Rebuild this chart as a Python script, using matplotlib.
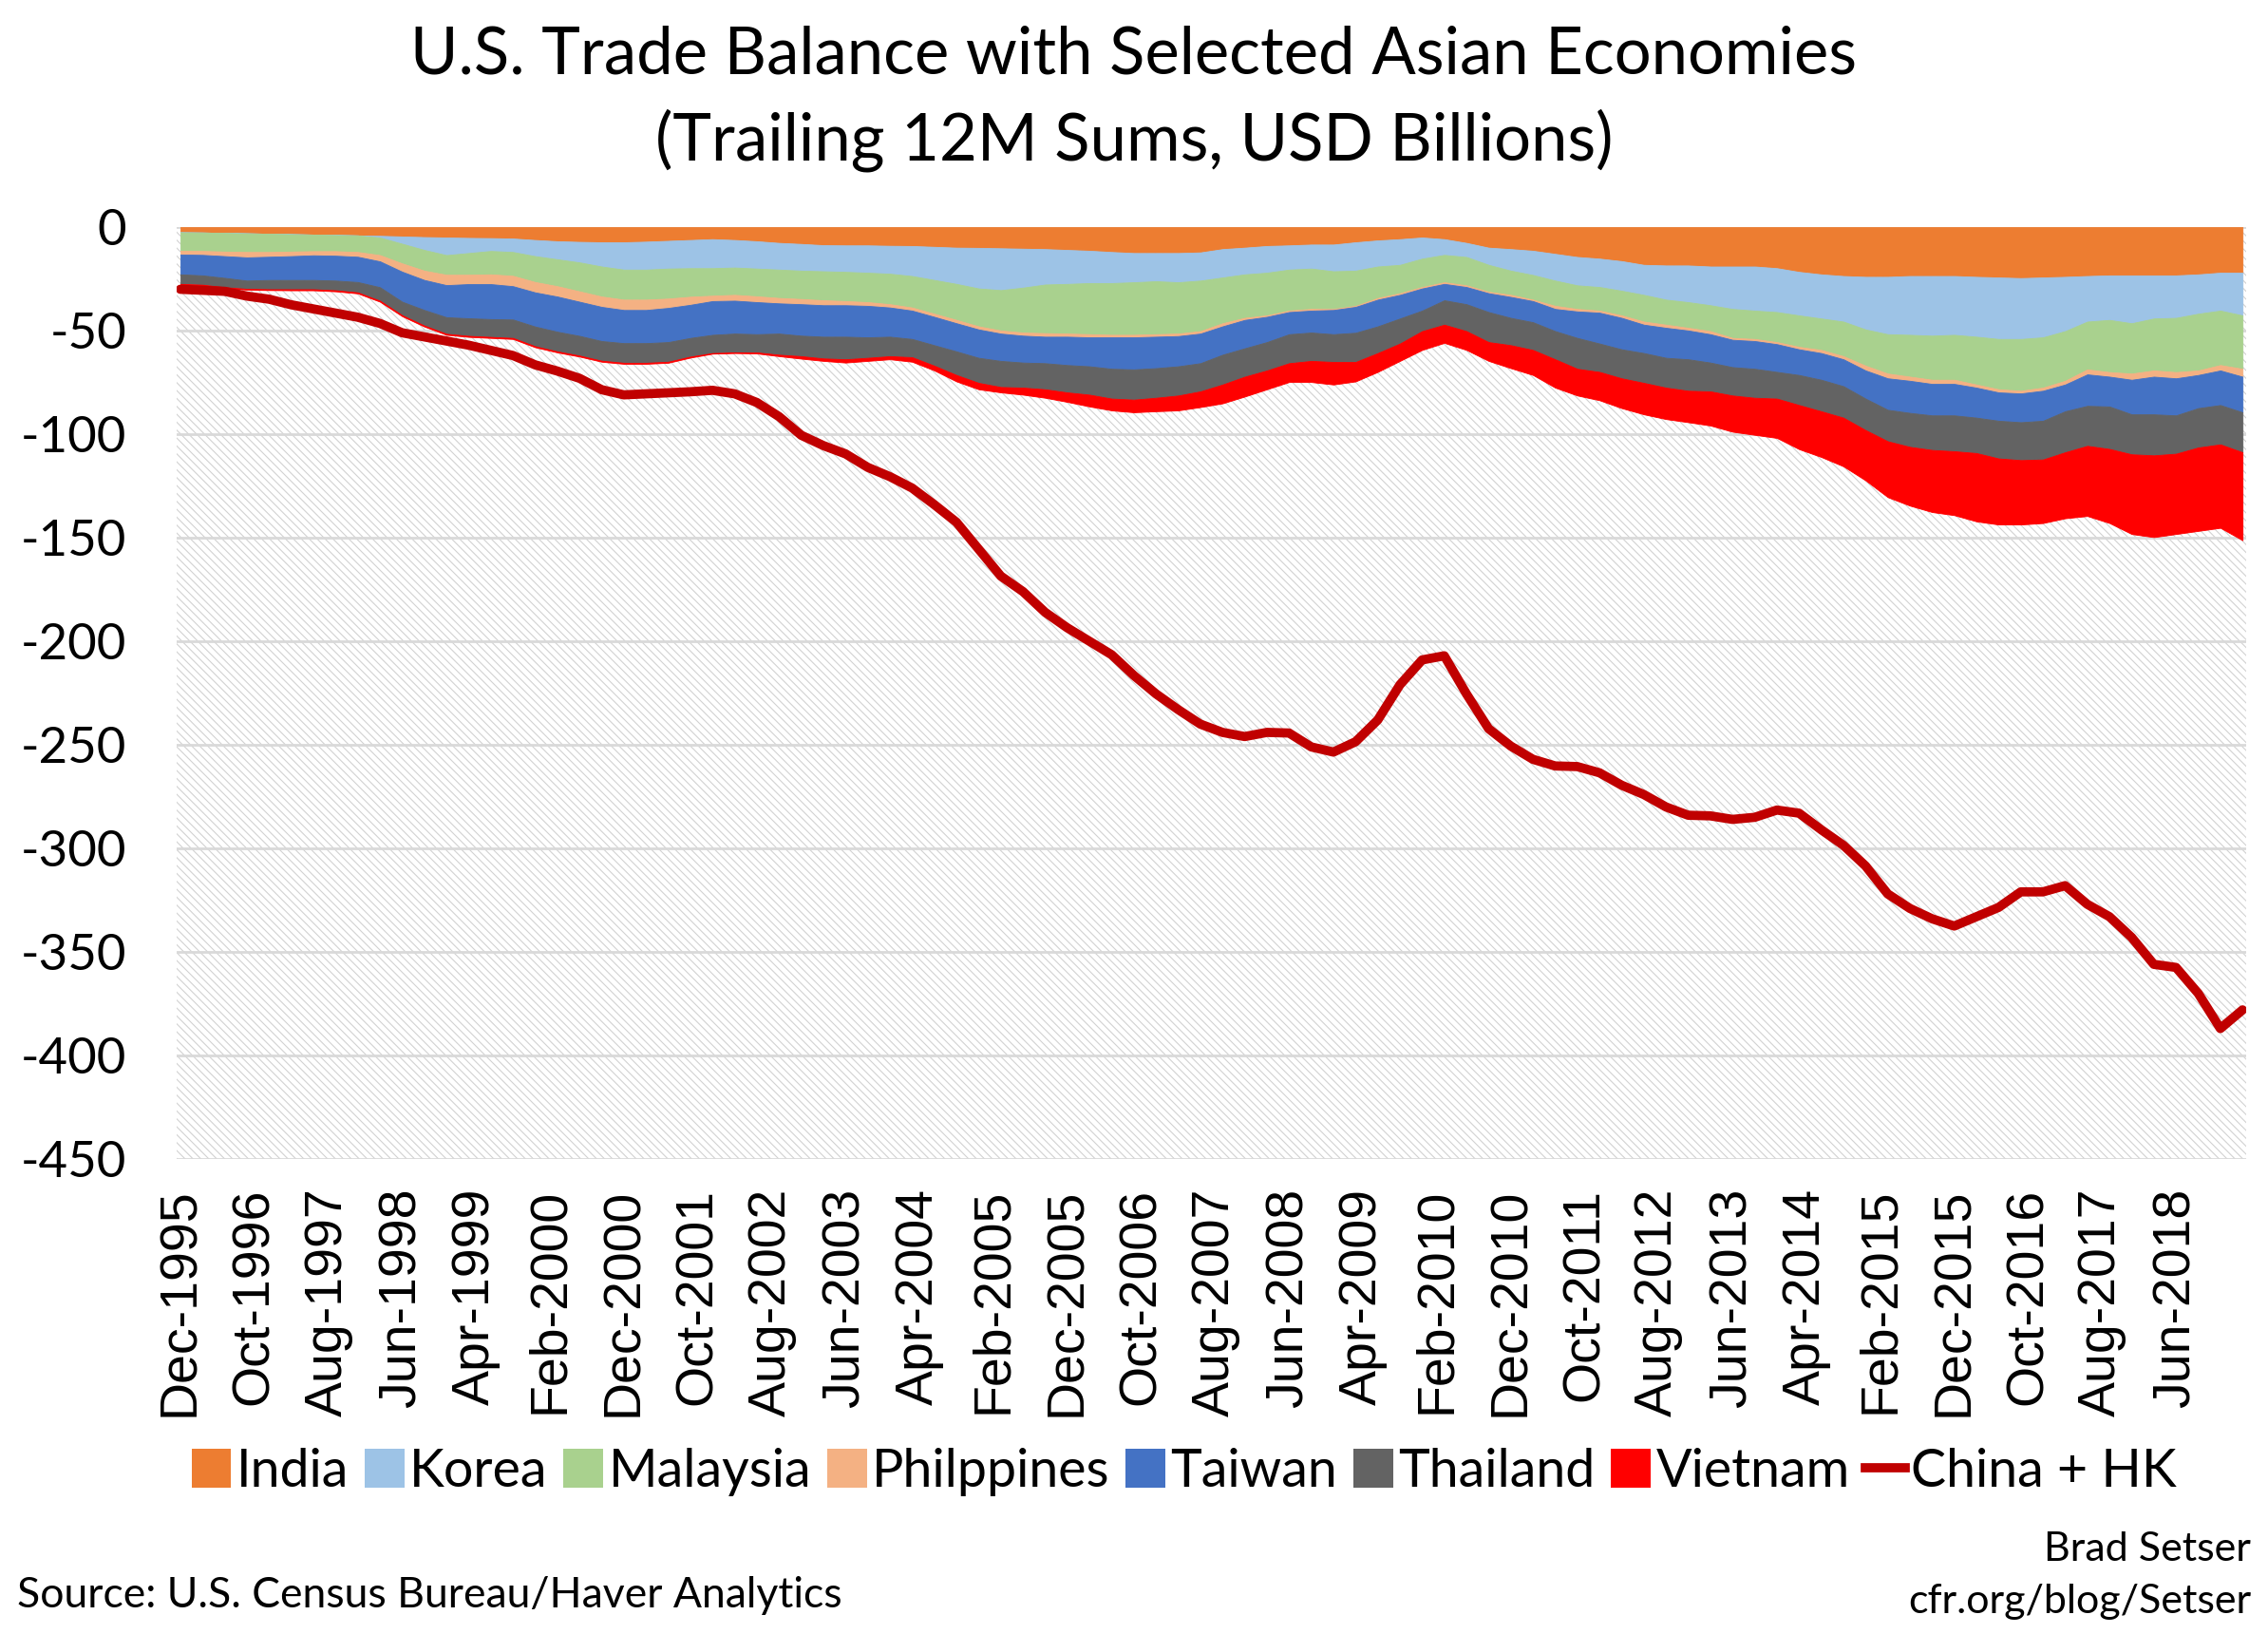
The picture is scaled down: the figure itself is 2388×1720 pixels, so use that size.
import numpy as np
import matplotlib
matplotlib.use("Agg")
import matplotlib.pyplot as plt
from matplotlib.patches import Patch
from matplotlib.lines import Line2D

plt.rcParams['font.family'] = ['Lato', 'DejaVu Sans']
plt.rcParams['axes.unicode_minus'] = False
plt.rcParams['hatch.linewidth'] = 0.8
plt.rcParams['hatch.color'] = '#d2d2d2'

# quarterly readings, months counted from Dec-1995 (0) to Mar-2019 (279)
months = np.arange(0, 280, 3)

india = [-2.5, -2.6, -2.8, -3.0, -3.2, -3.4, -3.6, -3.8, -4.0, -4.2, -4.5, -4.8,
         -5.0, -5.2, -5.3, -5.5, -6.2, -6.8, -7.1, -7.3, -7.3, -7.0, -6.6, -6.2,
         -5.8, -6.2, -6.8, -7.6, -8.1, -8.7, -8.8, -8.8, -9.0, -9.1, -9.5, -9.9,
         -10.0, -10.2, -10.4, -10.6, -11.0, -11.4, -12.0, -12.5, -12.5, -12.5, -12.2,
         -10.6, -9.9, -9.1, -8.8, -8.4, -8.4, -7.3, -6.4, -5.8, -5.0, -5.8, -7.6,
         -9.9, -10.6, -11.4, -12.9, -14.4, -15.2, -16.4, -18.2, -18.5, -18.5, -19.0,
         -19.0, -19.0, -19.8, -21.6, -22.8, -23.6, -24.0, -24.0, -23.6, -23.6, -23.6, -24.0,
         -24.3, -24.6, -24.3, -24.0, -23.6, -23.3, -23.3, -23.3, -23.3, -22.8, -22.0, -22.0]
korea = [0, 0, 0, 0, 0, 0, 0, 0, 0, -0.8, -3.5, -6.2,
         -8.5, -7.3, -6.2, -6.5, -7.8, -8.7, -9.9, -11.7, -13.2, -13.5, -13.4, -13.6,
         -14.0, -13.3, -13.2, -12.9, -12.9, -12.6, -12.8, -13.2, -13.5, -14.5, -16.0, -17.5,
         -19.6, -20.2, -18.8, -17.1, -16.4, -15.6, -15.0, -14.1, -13.6, -14.1, -13.6,
         -13.7, -12.9, -12.9, -11.7, -11.6, -12.9, -13.7, -12.6, -12.4, -10.2, -7.6, -6.8,
         -8.3, -10.4, -11.7, -12.9, -13.7, -13.7, -14.3, -14.5, -16.5, -17.7, -18.7,
         -20.5, -21.3, -21.2, -21.0, -21.3, -22.0, -25.4, -27.7, -28.4, -28.8, -28.4, -28.9,
         -29.7, -29.4, -28.9, -26.2, -22.0, -21.5, -23.1, -20.8, -20.5, -19.0, -18.3, -20.6]
malaysia = [-8.9, -8.9, -9.0, -9.0, -8.8, -8.4, -8.0, -7.8, -8.0, -8.5, -9.5, -10.0,
            -9.5, -10.5, -11.3, -11.5, -12.5, -13.0, -14.0, -14.5, -14.5, -14.5, -14.5, -13.8,
            -13.3, -13.2, -13.4, -13.7, -13.7, -14.0, -14.1, -14.2, -14.7, -15.2, -16.3, -17.4,
            -18.3, -19.5, -21.7, -23.5, -24.0, -24.7, -25.0, -25.4, -25.6, -24.8, -24.4,
            -22.1, -21.0, -20.6, -19.8, -19.5, -18.2, -17.0, -15.2, -13.7, -13.7, -13.2, -13.7,
            -13.0, -11.7, -11.9, -12.2, -11.4, -11.4, -11.9, -12.9, -12.1, -12.4, -12.5,
            -14.0, -13.7, -14.5, -15.2, -15.2, -16.7, -17.5, -19.0, -20.2, -21.3, -21.7, -23.1,
            -24.3, -25.0, -24.3, -24.0, -23.1, -25.2, -24.3, -25.1, -26.2, -27.4, -26.3, -25.8]
philippines = [-1.8, -1.9, -2.2, -2.6, -2.3, -2.2, -2.0, -2.2, -2.3, -3.0, -4.0, -4.5,
               -5.0, -4.5, -4.7, -5.0, -5.0, -5.0, -5.0, -5.0, -5.0, -5.0, -4.5, -3.9,
               -2.6, -2.8, -2.8, -2.6, -2.5, -2.4, -2.0, -1.8, -1.6, -1.5, -1.5, -1.6,
               -1.5, -1.5, -1.5, -1.7, -1.5, -1.5, -1.2, -1.2, -1.2, -1.2, -1.2,
               -1.5, -1.0, -0.7, -0.7, -0.8, -0.5, -0.5, -0.8, -0.8, -0.7, -0.8, -0.8,
               -0.7, -1.0, -0.7, -1.5, -1.2, -1.0, -1.2, -1.5, -1.5, -1.3, -1.5,
               -0.9, -1.0, -1.0, -1.2, -1.5, -1.5, -2.3, -2.3, -2.0, -2.0, -2.0, -1.5,
               -1.5, -1.3, -1.5, -1.8, -2.4, -2.2, -3.0, -3.0, -3.0, -2.2, -2.6, -3.8]
taiwan = [-9.6, -9.9, -10.5, -11.2, -11.2, -11.5, -11.9, -12.0, -12.2, -12.5, -14.5, -14.5,
          -15.5, -16.5, -16.9, -16.1, -16.5, -17.0, -16.5, -16.5, -16.0, -16.0, -16.5, -16.0,
          -16.3, -15.9, -15.5, -14.6, -15.2, -15.2, -15.2, -15.2, -14.1, -13.7, -13.7, -13.6,
          -13.7, -13.2, -13.0, -12.8, -13.7, -14.0, -15.2, -15.5, -15.2, -14.6, -14.3,
          -13.7, -13.7, -12.2, -10.7, -10.6, -11.7, -12.5, -12.9, -11.4, -10.7, -7.9, -8.3,
          -9.1, -10.1, -10.2, -10.7, -12.8, -14.9, -15.2, -13.7, -14.5, -13.9, -13.7,
          -13.2, -13.4, -13.4, -12.4, -12.9, -13.0, -13.6, -15.2, -15.5, -15.2, -15.2, -14.5,
          -13.7, -13.9, -14.5, -12.9, -15.2, -14.4, -16.7, -18.2, -17.9, -16.0, -16.7, -17.2]
thailand = [-4.6, -4.5, -4.5, -4.0, -4.5, -4.5, -4.5, -4.7, -5.0, -6.5, -6.5, -7.5,
            -8.0, -8.5, -8.6, -8.9, -9.5, -9.5, -9.5, -9.5, -9.5, -9.5, -9.5, -9.0,
            -8.8, -9.1, -8.8, -10.2, -9.9, -10.5, -10.9, -9.9, -9.4, -8.8, -9.9, -11.4,
            -12.1, -12.6, -12.1, -12.6, -13.2, -13.7, -14.4, -14.6, -14.3, -14.1, -13.6,
            -14.4, -13.7, -13.7, -14.0, -13.7, -13.4, -14.1, -12.9, -12.1, -9.9, -11.8, -13.0,
            -14.5, -13.2, -13.4, -13.6, -14.9, -13.7, -14.0, -14.4, -14.4, -15.2, -13.9,
            -13.7, -14.0, -12.9, -14.5, -15.2, -15.2, -15.2, -15.2, -16.4, -16.7, -17.3, -17.1,
            -18.2, -18.3, -18.7, -19.8, -19.3, -20.5, -19.3, -19.8, -18.5, -19.0, -19.0, -19.3]
vietnam = [-0.4, -0.4, -0.4, -0.4, -0.4, -0.5, -0.5, -0.5, -0.5, -0.5, -0.5, -0.5,
           -0.5, -0.5, -0.5, -0.5, -0.5, -0.5, -0.5, -0.5, -0.5, -0.5, -0.5, -0.5,
           -0.3, -0.3, -0.5, -0.7, -1.2, -1.2, -1.6, -1.5, -1.5, -2.2, -2.3, -3.1,
           -3.1, -2.6, -3.4, -4.1, -4.6, -5.7, -5.7, -6.1, -6.5, -7.2, -7.6,
           -9.1, -9.6, -9.1, -9.1, -10.2, -10.9, -9.4, -9.1, -8.4, -9.1, -8.8, -9.1,
           -9.1, -11.1, -12.1, -13.7, -12.9, -13.7, -14.4, -15.2, -15.2, -15.2, -16.5,
           -17.5, -17.9, -19.0, -21.3, -22.1, -23.5, -24.3, -27.0, -28.4, -30.0, -30.9, -33.0,
           -31.9, -31.1, -30.7, -31.9, -33.9, -35.8, -38.5, -39.5, -38.8, -40.3, -40.3, -42.5]
china_hk = [-30, -30.5, -31, -33.3, -34.8, -37.5, -39.5, -41.5, -43.5, -46.5, -51, -53,
            -55, -57, -59.5, -62, -66.5, -69.5, -73, -78.5, -81, -80.5, -80, -79.5,
            -78.8, -80.5, -84.7, -91.5, -100.5, -105.5, -109.5, -116, -120.5, -126, -134, -142.5,
            -155.5, -168.5, -176, -186, -193.5, -200, -206.5, -216.5, -225.4, -233, -240,
            -244, -246, -244, -244.3, -251, -253.5, -248.5, -238, -221, -209, -207, -225.4,
            -242.2, -250.6, -257, -260.2, -260.5, -263.5, -269.5, -274, -280, -284, -284.3,
            -286, -285, -281.5, -283, -291, -298.5, -308.5, -322, -329, -334, -337.5, -333,
            -328.5, -321, -321, -318, -327, -333, -343, -356, -357.5, -370, -387, -378]

names = ['India', 'Korea', 'Malaysia', 'Philppines', 'Taiwan', 'Thailand', 'Vietnam']
colors = ['#ED7D31', '#9DC3E6', '#A9D18E', '#F4B183', '#4472C4', '#636363', '#FF0000']
series = [india, korea, malaysia, philippines, taiwan, thailand, vietnam]

tick_pos = np.arange(0, 271, 10)
tick_labels = ['Dec-1995', 'Oct-1996', 'Aug-1997', 'Jun-1998', 'Apr-1999', 'Feb-2000',
               'Dec-2000', 'Oct-2001', 'Aug-2002', 'Jun-2003', 'Apr-2004', 'Feb-2005',
               'Dec-2005', 'Oct-2006', 'Aug-2007', 'Jun-2008', 'Apr-2009', 'Feb-2010',
               'Dec-2010', 'Oct-2011', 'Aug-2012', 'Jun-2013', 'Apr-2014', 'Feb-2015',
               'Dec-2015', 'Oct-2016', 'Aug-2017', 'Jun-2018']

fig = plt.figure(figsize=(23.88, 17.2), dpi=100)
ax = fig.add_axes([0.0779, 0.2907, 0.9125, 0.5703])

# fine hatched background under the stacks
ax.fill_between([-0.5, 279.5], -450, 0, facecolor='white', edgecolor='#d2d2d2',
                hatch='\\\\\\\\', linewidth=0, zorder=0.2)

base = np.zeros(len(months))
for vals, c in zip(series, colors):
    low = base + np.array(vals)
    ax.fill_between(months, base, low, color=c, linewidth=0.6, zorder=1)
    base = low

ax.plot(months, china_hk, color='#C00000', lw=7, solid_joinstyle='round',
        solid_capstyle='round', zorder=3)

ax.set_xlim(-0.5, 279.5)
ax.set_ylim(-450, 0)
ax.set_yticks(range(-450, 1, 50))
ax.set_yticklabels([str(v) for v in range(-450, 1, 50)], fontsize=38)
ax.set_xticks(tick_pos)
ax.set_xticklabels(tick_labels, rotation=90, fontsize=40, family='Liberation Sans')
ax.tick_params(axis='y', length=0, pad=38)
ax.tick_params(axis='x', length=0, pad=22)
ax.grid(axis='y', color='#d9d9d9', lw=2)
ax.set_axisbelow(True)
for s in ax.spines.values():
    s.set_visible(False)

handles = [Patch(facecolor=c, edgecolor='none') for c in colors]
handles.append(Line2D([], [], color='#C00000', lw=7))
fig.legend(handles, names + ['China + HK'], loc='center', bbox_to_anchor=(0.522, 0.099),
           ncol=8, frameon=False, fontsize=40, handlelength=0.75, handleheight=0.75,
           handletextpad=0.1, columnspacing=0.3)

fig.text(0.5, 1 - 58 / 1720, 'U.S. Trade Balance with Selected Asian Economies',
         ha='center', va='center', fontsize=49.5)
fig.text(0.5, 1 - 148 / 1720, '(Trailing 12M Sums, USD Billions)',
         ha='center', va='center', fontsize=49.5)
fig.text(0.0075, 1 - 1680 / 1720, 'Source: U.S. Census Bureau/Haver Analytics',
         ha='left', va='center', fontsize=32)
fig.text(0.9925, 1 - 1631 / 1720, 'Brad Setser', ha='right', va='center', fontsize=31)
fig.text(0.9925, 1 - 1686 / 1720, 'cfr.org/blog/Setser', ha='right', va='center', fontsize=31)

fig.savefig('out.png', dpi=100)
